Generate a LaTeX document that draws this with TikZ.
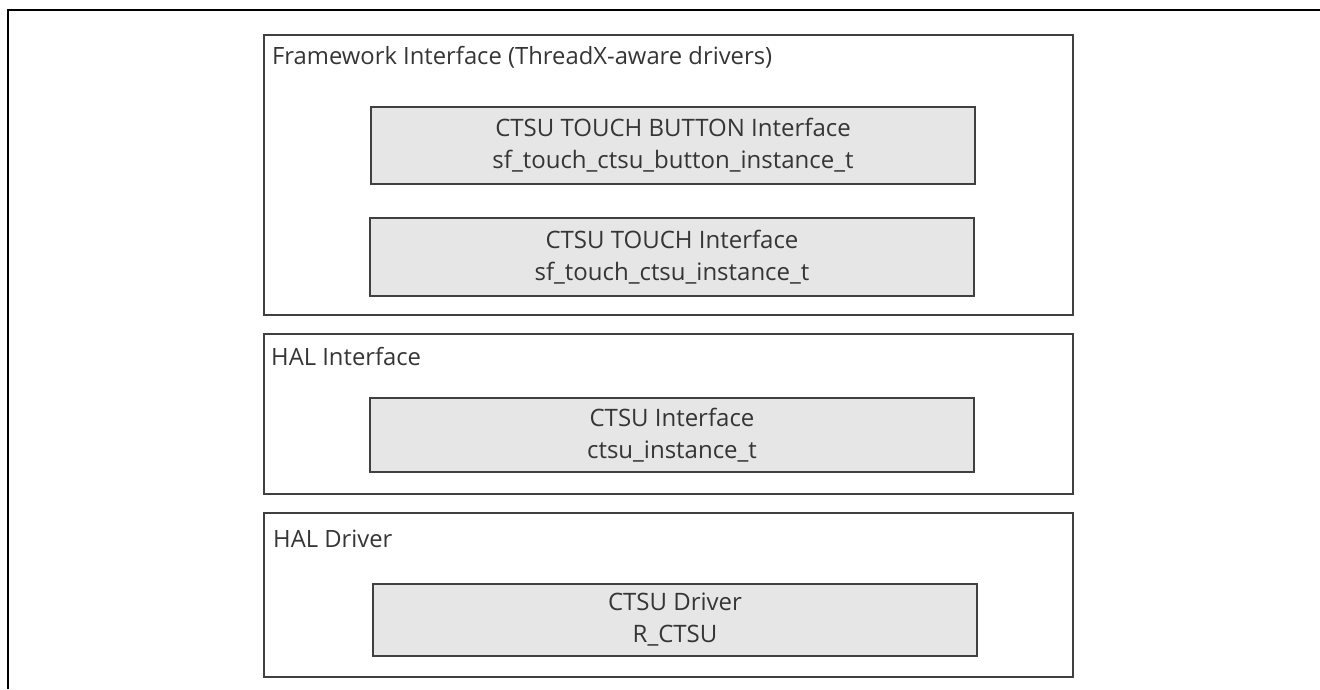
\documentclass[tikz,border=0pt]{standalone}
\usepackage{fontspec}
\setmainfont{Open Sans}
\definecolor{edge}{HTML}{404040}
\definecolor{boxfill}{HTML}{E6E6E6}
\definecolor{txt}{HTML}{353535}
\begin{document}
\begin{tikzpicture}[x=1pt,y=-1pt,
  group/.style={draw=edge, line width=2pt, anchor=north west, inner sep=0pt, minimum width=809pt},
  item/.style={draw=edge, line width=2pt, fill=boxfill, anchor=north west, inner sep=0pt, minimum width=604pt},
  itemtext/.style={align=center, text=txt, font=\fontsize{24}{32}\selectfont},
  label/.style={anchor=base west, inner sep=0pt, text=txt, font=\fontsize{23.8}{28}\selectfont}]
\useasboundingbox (0,0) rectangle (1320,689);
\draw[line width=2.2pt] (8,689) -- (8,10) -- (1320,10);
% groups
\node[group, minimum height=280pt] (fw) at (263,34) {};
\node[group, minimum height=160pt] (halif) at (263,333) {};
\node[group, minimum height=164pt] (haldrv) at (263,512) {};
% group labels
\node[label] (fwl) at (272,64) {Framework Interface (ThreadX-aware drivers)};
\node[label] (halifl) at (271,365) {HAL Interface};
\node[label] (haldrvl) at (273,547) {HAL Driver};
% items
\node[item, minimum height=77pt] (btn) at (370,106) {};
\node[itemtext] at (btn.center) {CTSU TOUCH BUTTON Interface\\sf\_touch\_ctsu\_button\_instance\_t};
\node[item, minimum height=78pt] (touch) at (369,217) {};
\node[itemtext] at (touch.center) {CTSU TOUCH Interface\\sf\_touch\_ctsu\_instance\_t};
\node[item, minimum height=74pt] (ctsuif) at (369,397) {};
\node[itemtext] at (ctsuif.center) {CTSU Interface\\ctsu\_instance\_t};
\node[item, minimum height=72pt] (drv) at (372,583) {};
\node[itemtext] at (drv.center) {CTSU Driver\\R\_CTSU};
\end{tikzpicture}
\end{document}
